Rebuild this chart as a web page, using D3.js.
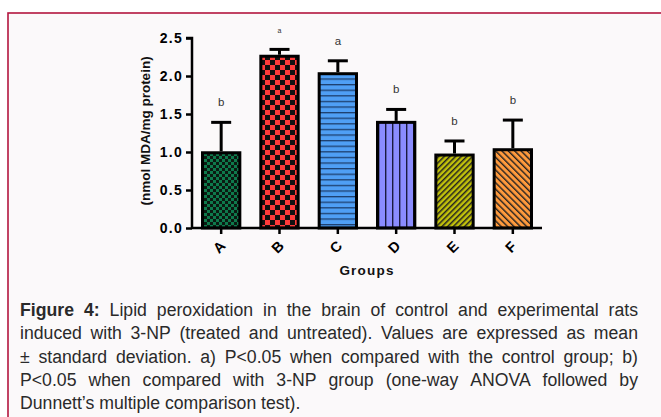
<!DOCTYPE html>
<html><head><meta charset="utf-8">
<script src="https://cdn.jsdelivr.net/npm/d3@7"></script>
<style>
html,body{margin:0;padding:0;background:#fff;}
svg{display:block;}
</style></head>
<body>
<svg id="c" width="661" height="417"></svg>
<script>
const groups = ["A","B","C","D","E","F"];
const means = [0.99, 2.26, 2.03, 1.39, 0.96, 1.03];
const sds = [0.40, 0.09, 0.17, 0.17, 0.185, 0.39];
const sigLetters = ["b","a","a","b","b","b"];
const yTicks = [0.0, 0.5, 1.0, 1.5, 2.0, 2.5];
const captionLines = [
  "Figure 4: Lipid peroxidation in the brain of control and experimental rats",
  "induced with 3-NP (treated and untreated). Values are expressed as mean",
  "± standard deviation. a) P<0.05 when compared with the control group; b)",
  "P<0.05 when compared with 3-NP group (one-way ANOVA followed by",
  "Dunnett’s multiple comparison test)."
];

const svg = d3.select("#c");
svg.append("rect").attr("x",8).attr("y",13).attr("width",670).attr("height",420)
  .attr("fill","#fbf9fa").attr("stroke","#b3163f").attr("stroke-width",1.6);

const defs = svg.append("defs");
let p = defs.append("pattern").attr("id","pA").attr("patternUnits","userSpaceOnUse").attr("width",6).attr("height",6);
p.append("rect").attr("width",6).attr("height",6).attr("fill","#0e7a4c");
p.append("rect").attr("width",3).attr("height",3).attr("fill","#0b1a12");
p.append("rect").attr("x",3).attr("y",3).attr("width",3).attr("height",3).attr("fill","#0b1a12");
p = defs.append("pattern").attr("id","pB").attr("patternUnits","userSpaceOnUse").attr("width",10).attr("height",10);
p.append("rect").attr("width",10).attr("height",10).attr("fill","#ff3a3a");
p.append("rect").attr("width",5).attr("height",5).attr("fill","#111");
p.append("rect").attr("x",5).attr("y",5).attr("width",5).attr("height",5).attr("fill","#111");
p = defs.append("pattern").attr("id","pC").attr("patternUnits","userSpaceOnUse").attr("width",10).attr("height",5.6);
p.append("rect").attr("width",10).attr("height",5.6).attr("fill","#4f9ff5");
p.append("rect").attr("y",0).attr("width",10).attr("height",1.3).attr("fill","#1d3f6e");
p = defs.append("pattern").attr("id","pD").attr("patternUnits","userSpaceOnUse").attr("width",7).attr("height",10);
p.append("rect").attr("width",7).attr("height",10).attr("fill","#8a8cff");
p.append("rect").attr("x",0).attr("width",1.4).attr("height",10).attr("fill","#1a1a40");
p = defs.append("pattern").attr("id","pE").attr("patternUnits","userSpaceOnUse").attr("width",4).attr("height",4)
  .attr("patternTransform","rotate(45)");
p.append("rect").attr("width",4).attr("height",4).attr("fill","#c2c20a");
p.append("rect").attr("width",1.5).attr("height",4).attr("fill","#222");
p = defs.append("pattern").attr("id","pF").attr("patternUnits","userSpaceOnUse").attr("width",4.5).attr("height",4.5)
  .attr("patternTransform","rotate(-45)");
p.append("rect").attr("width",4.5).attr("height",4.5).attr("fill","#ff9a3c");
p.append("rect").attr("width",1.4).attr("height",4.5).attr("fill","#222");

const x = d3.scaleBand().domain(groups).range([192,542]).paddingInner(0.36).paddingOuter(0.18);
const y = d3.scaleLinear().domain([0,2.5]).range([228,38]);

const g = svg.append("g");
g.selectAll("rect.bar").data(groups).join("rect").attr("class","bar")
  .attr("x",d=>x(d)).attr("width",x.bandwidth())
  .attr("y",(d,i)=>y(means[i])).attr("height",(d,i)=>y(0)-y(means[i]))
  .attr("fill",d=>"url(#p"+d+")").attr("stroke","#000").attr("stroke-width",3);
groups.forEach((d,i)=>{
  const cx = x(d)+x.bandwidth()/2;
  g.append("line").attr("x1",cx).attr("x2",cx).attr("y1",y(means[i])-1.5).attr("y2",y(means[i]+sds[i]))
    .attr("stroke","#000").attr("stroke-width",3);
  g.append("line").attr("x1",cx-10).attr("x2",cx+10).attr("y1",y(means[i]+sds[i])).attr("y2",y(means[i]+sds[i]))
    .attr("stroke","#000").attr("stroke-width",3);
  g.append("text").attr("x",cx).attr("y",y(means[i]+sds[i])-16)
    .attr("text-anchor","middle").attr("font-family","Liberation Sans, Arial, sans-serif")
    .attr("font-size", i===1 ? 7 : 11.5).attr("fill","#333").text(sigLetters[i]);
});

const yAxis = d3.axisLeft(y).tickValues(yTicks).tickFormat(d3.format(".1f")).tickSize(6).tickPadding(3);
const ya = svg.append("g").attr("transform","translate(192,0)").call(yAxis);
ya.select(".domain").attr("stroke-width",2.5).attr("d","M-6,"+y(2.5)+"H0V"+y(0));
ya.selectAll(".tick line").attr("stroke-width",2.5);
ya.selectAll(".tick text").attr("font-family","Liberation Sans, Arial, sans-serif").attr("font-weight","bold")
  .attr("font-size",14).attr("letter-spacing","1.3px").attr("fill","#000");

const xAxis = d3.axisBottom(x).tickSize(6).tickPadding(4);
const xa = svg.append("g").attr("transform","translate(0,228)").call(xAxis);
xa.select(".domain").attr("stroke-width",2.5).attr("d","M192,0H542");
xa.selectAll(".tick line").attr("stroke-width",2.5);
xa.selectAll(".tick text").attr("font-family","Liberation Sans, Arial, sans-serif").attr("font-weight","bold")
  .attr("font-size",14.5).attr("fill","#000").attr("text-anchor","middle")
  .attr("dy","0.35em").attr("y",0)
  .attr("transform","translate(-2,19) rotate(-45)");

svg.append("text").attr("transform","translate(150,131) rotate(-90)").attr("text-anchor","middle")
  .attr("font-family","Liberation Sans, Arial, sans-serif").attr("font-weight","bold").attr("font-size",13.5)
  .attr("fill","#111").text("(nmol MDA/mg protein)");
svg.append("text").attr("x",367).attr("y",275).attr("text-anchor","middle")
  .attr("font-family","Liberation Sans, Arial, sans-serif").attr("font-weight","bold").attr("font-size",13.5)
  .attr("letter-spacing","1.2px").attr("fill","#111").text("Groups");

// caption: narrowish glyphs, justified word by word
const capLeft = 20, capRight = 638, sx = 0.94, fs = 18.8;
const cap = svg.append("g").attr("font-family","Liberation Sans, Arial, sans-serif")
  .attr("font-size",fs).attr("fill","#2a2a2a");
captionLines.forEach((line,i)=>{
  const words = line.split(" ");
  const baseY = 316 + i*23.3;
  const items = words.map((w,j)=>{
    const bold = (i===0 && j<2);
    const t = cap.append("text").attr("y",baseY).attr("font-weight",bold?"bold":"normal").text(w);
    const wd = t.node().getComputedTextLength()*sx;
    return {t, wd};
  });
  const total = d3.sum(items, d=>d.wd);
  const last = i===captionLines.length-1;
  const gap = last ? 0.278*fs*sx : (capRight-capLeft-total)/(items.length-1);
  let cx = capLeft;
  items.forEach(it=>{
    it.t.attr("transform","translate("+cx+",0) scale("+sx+",1)");
    cx += it.wd + gap;
  });
});
</script>
</body></html>
